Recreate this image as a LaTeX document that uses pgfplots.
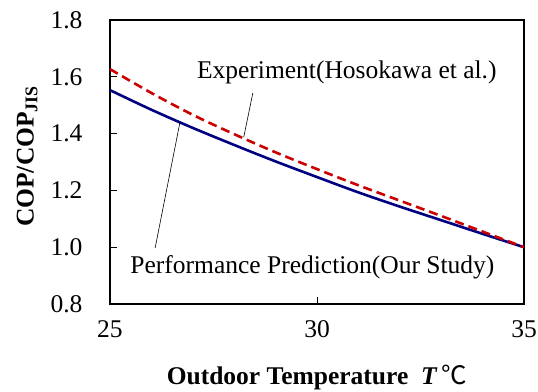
\documentclass[border=0pt]{standalone}
\usepackage{fontspec}
\setmainfont{Liberation Serif}
\newfontfamily\cjk{Noto Sans CJK JP}
\usepackage{pgfplots}
\pgfplotsset{compat=1.18}

\definecolor{predblue}{HTML}{000080}
\definecolor{exptred}{HTML}{CC0000}

% COP ratio versus outdoor temperature
\pgfplotstableread{
T    cop
25   1.553
26   1.484
27   1.420
28   1.360
29   1.302
30   1.247
31   1.193
32   1.143
33   1.095
34   1.047
35   1.000
}\prediction

\pgfplotstableread{
T    cop
25   1.627
26   1.543
27   1.466
28   1.398
29   1.334
30   1.275
31   1.218
32   1.164
33   1.110
34   1.055
35   1.000
}\experiment

\begin{document}
\begin{tikzpicture}[x=1pt,y=1pt]
\useasboundingbox (0,0) rectangle (538,391);
\begin{axis}[
  at={(110pt,87pt)}, anchor=south west,
  scale only axis, width=414pt, height=284pt,
  xmin=25, xmax=35, ymin=0.8, ymax=1.8,
  xtick={25,30,35}, ytick={0.8,1.0,...,1.8},
  yticklabel style={/pgf/number format/fixed,/pgf/number format/fixed zerofill,/pgf/number format/precision=1},
  /pgf/number format/assume math mode=true,
  tick pos=left, tick align=inside, major tick length=7pt,
  tick style={black, line width=0.8pt},
  axis line style={line width=1.6pt},
  ticklabel style={font=\fontsize{25.5}{28}\selectfont},
  xticklabel style={yshift=-13pt},
  yticklabel style={xshift=-24pt},
  clip=false,
]
\addplot[predblue, line width=2.6pt, smooth] table[x=T,y=cop] {\prediction};
\addplot[exptred, line width=2.6pt, smooth, dash pattern=on 9pt off 5pt] table[x=T,y=cop] {\experiment};

% annotation leaders
\draw[line width=0.6pt] (axis cs:28.45,1.543) -- (axis cs:28.23,1.387);
\draw[line width=0.6pt] (axis cs:26.09,0.997) -- (axis cs:26.69,1.440);
\node[font=\fontsize{25.5}{28}\selectfont] at (axis cs:30.72,1.617) {Experiment(Hosokawa et al.)};
\node[font=\fontsize{25.5}{28}\selectfont] at (axis cs:29.89,0.930) {Performance Prediction(Our Study)};

% axis titles
\node[rotate=90, font=\fontsize{25.5}{28}\selectfont\bfseries] at (rel axis cs:-0.2,0.52)
  {COP/COP\textsubscript{JIS}};
\node[font=\fontsize{25.5}{28}\selectfont\bfseries] at (rel axis cs:0.5,-0.26)
  {Outdoor Temperature\ \ \textit{T}\,{\cjk\mdseries ℃}};
\end{axis}
\end{tikzpicture}
\end{document}
